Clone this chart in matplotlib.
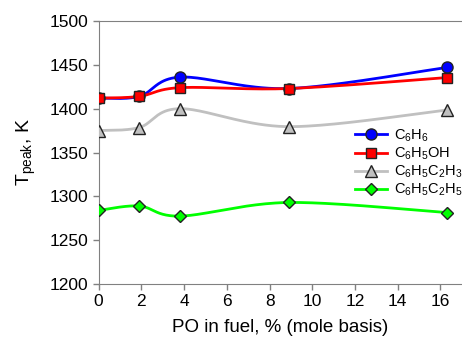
import numpy as np
import matplotlib
matplotlib.use("Agg")
import matplotlib.pyplot as plt

plt.rcParams['font.family'] = ['Liberation Sans', 'DejaVu Sans']
plt.rcParams['mathtext.fontset'] = 'custom'
plt.rcParams['mathtext.rm'] = 'Liberation Sans'
plt.rcParams['mathtext.it'] = 'Liberation Sans:italic'
plt.rcParams['mathtext.bf'] = 'Liberation Sans:bold'

x = [0, 1.9, 3.82, 8.9, 16.3]
c6h6 = [1412, 1414, 1436, 1423, 1447]
c6h5oh = [1412, 1414, 1424, 1423, 1435.5]
c6h5c2h3 = [1375, 1378.5, 1400, 1379.5, 1398.5]
c6h5c2h5 = [1284, 1289, 1277.5, 1293, 1281.5]

labels = [r"C$\mathregular{_6}$H$\mathregular{_6}$",
          r"C$\mathregular{_6}$H$\mathregular{_5}$OH",
          r"C$\mathregular{_6}$H$\mathregular{_5}$C$\mathregular{_2}$H$\mathregular{_3}$",
          r"C$\mathregular{_6}$H$\mathregular{_5}$C$\mathregular{_2}$H$\mathregular{_5}$"]


def smooth(xs, ys, n=40):
    # Excel-style smoothed line: cubic Bezier through points, Catmull-Rom tangents
    xs = np.asarray(xs, float)
    ys = np.asarray(ys, float)
    px = np.concatenate([[xs[0]], xs, [xs[-1]]])
    py = np.concatenate([[ys[0]], ys, [ys[-1]]])
    ox, oy = [], []
    t = np.linspace(0, 1, n)
    for i in range(1, len(px) - 2):
        p0 = np.array([px[i], py[i]])
        p3 = np.array([px[i + 1], py[i + 1]])
        p1 = p0 + (np.array([px[i + 1], py[i + 1]]) - np.array([px[i - 1], py[i - 1]])) / 6
        p2 = p3 - (np.array([px[i + 2], py[i + 2]]) - np.array([px[i], py[i]])) / 6
        b = ((1 - t) ** 3)[:, None] * p0 + (3 * (1 - t) ** 2 * t)[:, None] * p1 \
            + (3 * (1 - t) * t ** 2)[:, None] * p2 + (t ** 3)[:, None] * p3
        ox.extend(b[:, 0])
        oy.extend(b[:, 1])
    return ox, oy


fig = plt.figure(figsize=(4.62, 3.49), dpi=100)
ax = fig.add_axes([0.2136, 0.1862, 0.786, 0.7536])

series = [
    (c6h6, "#0000ff", "#0000ff", "o", 8),
    (c6h5oh, "#ff0000", "#ff0000", "s", 7),
    (c6h5c2h3, "#c0c0c0", "#c0c0c0", "^", 8),
    (c6h5c2h5, "#00ff00", "#00ff00", "D", 6.5),
]
handles = []
for (ys, lc, fc, m, ms), lab in zip(series, labels):
    sx, sy = smooth(x, ys)
    ax.plot(sx, sy, color=lc, lw=2, zorder=2)
    ax.plot(x, ys, ls="none", marker=m, ms=ms, mfc=fc, mec="#222222", mew=1, zorder=3)
    h, = ax.plot([], [], color=lc, lw=2, marker=m, ms=ms, mfc=fc, mec="#222222", mew=1)
    handles.append(h)

ax.set_xlim(0, 17)
ax.set_ylim(1200, 1500)
ax.set_xticks(range(0, 17, 2))
ax.set_yticks(range(1200, 1501, 50))
ax.tick_params(labelsize=12.5, direction="out", length=4, color="#808080", width=1)
for s in ["left", "bottom", "top"]:
    ax.spines[s].set_color("#808080")
ax.spines["right"].set_visible(False)

ax.set_xlabel("PO in fuel, % (mole basis)", fontsize=13.5, labelpad=7)
ax.set_ylabel(r"T$\mathregular{_{peak}}$, K", fontsize=14, labelpad=8)

ax.legend(handles, labels, loc="upper left", bbox_to_anchor=(0.705, 0.595), frameon=False,
          fontsize=10.5, handlelength=2.2, labelspacing=0.12, borderaxespad=0, borderpad=0,
          handletextpad=0.5)

fig.savefig("out.png", dpi=100)
